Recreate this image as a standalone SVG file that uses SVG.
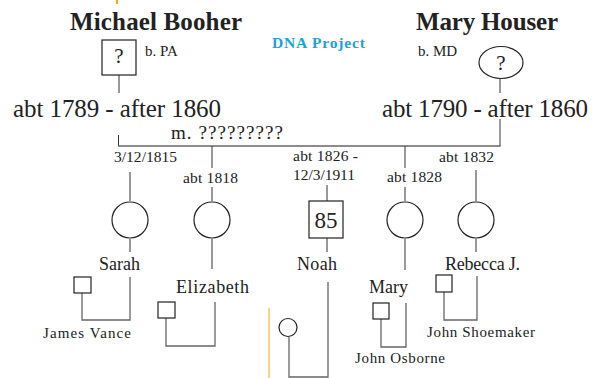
<svg xmlns="http://www.w3.org/2000/svg" width="592" height="378" viewBox="0 0 592 378">
<style>
text{font-family:"Liberation Serif","Times New Roman",serif;fill:#222}
.title{font-size:25px;font-weight:bold}
.life{font-size:25px}
.small{font-size:15px}
.date{font-size:15.5px}
.name{font-size:18px}
.ln{stroke:#333;stroke-width:1;fill:none}
.br{stroke:#666;stroke-width:1.3;fill:none}
.sym{stroke:#222;stroke-width:1.2;fill:#fff}
</style>
<rect width="592" height="378" fill="#fff"/>
<line x1="117" y1="0" x2="117" y2="4" stroke="#f5a623" stroke-width="2"/>
<text x="272" y="48" style="font-size:15.5px;font-weight:bold;fill:#1ba1dc" textLength="93">DNA Project</text>

<g id="michael">
<text class="title" x="70" y="30" textLength="172">Michael Booher</text>
<rect class="sym" x="102" y="40" width="34" height="35"/>
<text x="119" y="63" text-anchor="middle" style="font-size:21px">?</text>
<text class="small" x="145" y="56">b. PA</text>
<text class="life" x="13" y="117" textLength="208">abt 1789 - after 1860</text>
</g>

<g id="mary-houser">
<text class="title" x="416" y="30" textLength="142">Mary Houser</text>
<ellipse class="sym" cx="501" cy="62.5" rx="22" ry="16"/>
<text x="501" y="70" text-anchor="middle" style="font-size:21px">?</text>
<text class="small" x="418" y="56">b. MD</text>
<text class="life" x="382" y="117" textLength="206">abt 1790 - after 1860</text>
</g>

<g id="marriage">
<text x="171" y="139" style="font-size:19px" textLength="112">m. ?????????</text>
</g>

<g id="connectors">
<line class="ln" x1="119" y1="75" x2="119" y2="93"/>
<line class="ln" x1="500" y1="78" x2="500" y2="93"/>
<line class="ln" x1="118.5" y1="135" x2="118.5" y2="146"/>
<line class="br" x1="500" y1="119" x2="500" y2="146"/>
<line class="br" x1="118" y1="146" x2="500.6" y2="146"/>
<line class="ln" x1="130" y1="172" x2="130" y2="201"/>
<line class="ln" x1="130" y1="239" x2="130" y2="252"/>
<line class="ln" x1="212" y1="146" x2="212" y2="168"/>
<line class="ln" x1="212" y1="187" x2="212" y2="201"/>
<line class="ln" x1="212" y1="239" x2="212" y2="269"/>
<line class="ln" x1="327" y1="185" x2="327" y2="201"/>
<line class="ln" x1="327" y1="238" x2="327" y2="252"/>
<line class="ln" x1="405" y1="146" x2="405" y2="168"/>
<line class="ln" x1="405" y1="187" x2="405" y2="201"/>
<line class="ln" x1="405" y1="239" x2="405" y2="270"/>
<line class="ln" x1="476" y1="170" x2="476" y2="201"/>
<line class="ln" x1="476" y1="239" x2="476" y2="252"/>
<polyline class="br" points="82,293 82,320 130,320 130,277"/>
<polyline class="br" points="166,318 166,346 215,346 215,302"/>
<polyline class="br" points="328,282 328,377 289,377 289,337"/>
<polyline class="br" points="381,319 381,347 406,347 406,303"/>
<polyline class="br" points="444,292 444,320 477,320 477,276"/>
<line x1="269" y1="308" x2="269" y2="378" stroke="#f5c870" stroke-width="1.6"/>
</g>

<g id="sarah">
<text class="date" x="114" y="162" textLength="63">3/12/1815</text>
<circle class="sym" cx="130" cy="220" r="18"/>
<text class="name" x="99" y="270" textLength="41">Sarah</text>
</g>
<g id="james-vance">
<rect class="sym" x="74" y="277" width="17" height="16"/>
<text class="small" x="43" y="338" textLength="88">James Vance</text>
</g>

<g id="elizabeth">
<text class="date" x="183" y="183" textLength="55">abt 1818</text>
<circle class="sym" cx="212" cy="220" r="18"/>
<text class="name" x="176" y="293" textLength="73">Elizabeth</text>
</g>
<g id="elizabeth-spouse">
<rect class="sym" x="158" y="302" width="17" height="16"/>
</g>

<g id="noah">
<text class="date" x="293" y="161" textLength="65">abt 1826 -</text>
<text class="date" x="293" y="180" textLength="62">12/3/1911</text>
<rect class="sym" x="309" y="201" width="34" height="37"/>
<text x="326" y="228" text-anchor="middle" style="font-size:23px">85</text>
<text class="name" x="297" y="270" textLength="40">Noah</text>
</g>
<g id="noah-spouse">
<circle class="sym" cx="288" cy="327.5" r="9"/>
</g>

<g id="mary">
<text class="date" x="387" y="182" textLength="55">abt 1828</text>
<circle class="sym" cx="405" cy="220" r="18"/>
<text class="name" x="369" y="293" textLength="39">Mary</text>
</g>
<g id="john-osborne">
<rect class="sym" x="373" y="303" width="16" height="16"/>
<text class="small" x="355" y="363" textLength="90">John Osborne</text>
</g>

<g id="rebecca">
<text class="date" x="439" y="162" textLength="55">abt 1832</text>
<circle class="sym" cx="476" cy="220" r="18"/>
<text class="name" x="445" y="270" textLength="75">Rebecca J.</text>
</g>
<g id="john-shoemaker">
<rect class="sym" x="436" y="275" width="16" height="17"/>
<text class="small" x="427" y="337" textLength="108">John Shoemaker</text>
</g>
</svg>
